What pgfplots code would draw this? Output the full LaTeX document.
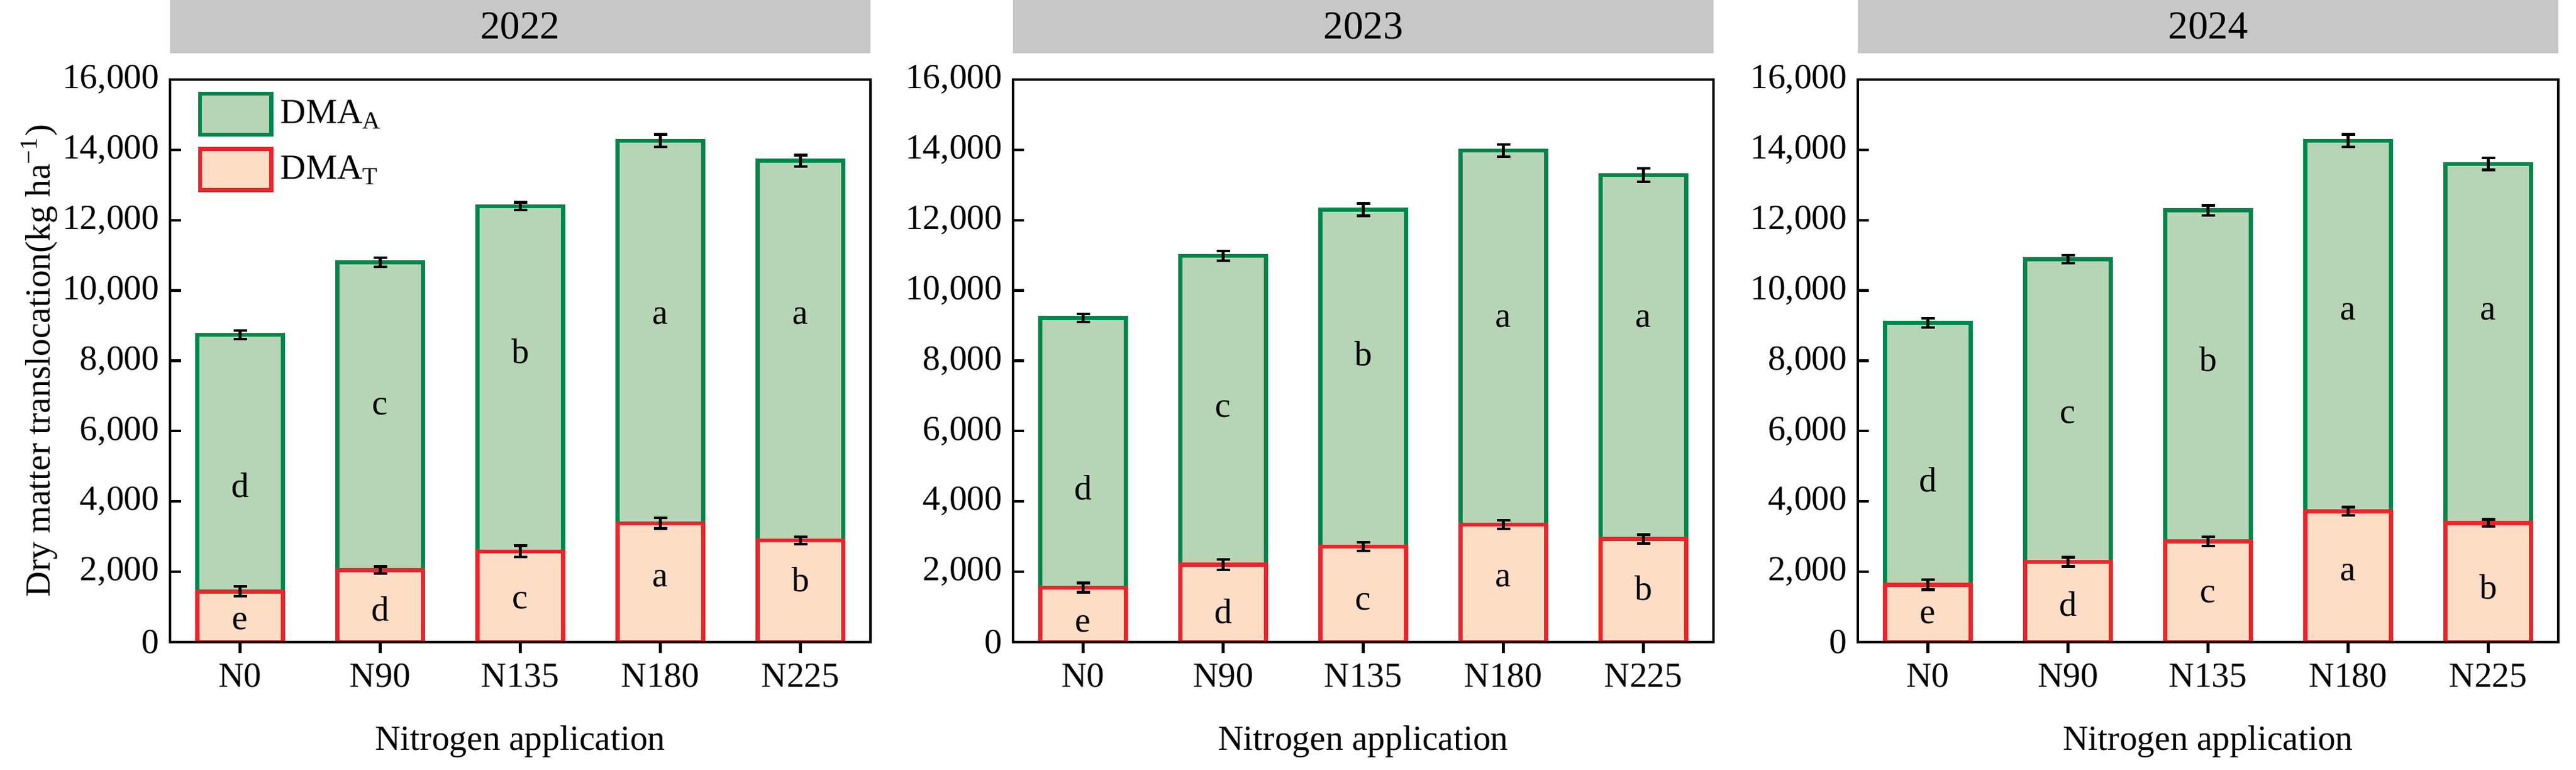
\documentclass[border=0pt]{standalone}
\usepackage{fontspec}
\setmainfont{Liberation Serif}
\usepackage{pgfplots}
\usepackage{pgfplotstable}
\pgfplotsset{compat=1.18}

\definecolor{stripgray}{RGB}{199,199,199}
\definecolor{afill}{RGB}{182,213,181}
\definecolor{agreen}{RGB}{0,134,74}
\definecolor{tfill}{RGB}{253,221,196}
\definecolor{tred}{RGB}{238,36,42}

\newcommand\fs{\fontsize{11.5}{13.8}\selectfont}

% x: category index; T = DMA_T; A = DMA_A; Tot = T + A
\pgfplotstableread{
x T A Tot eT eTot
0 1440 7300 8740 140 120
1 2050 8750 10800 100 130
2 2580 9820 12400 160 110
3 3380 10880 14260 150 180
4 2890 10800 13690 110 160
}\tabA
\pgfplotstableread{
x T A Tot eT eTot
0 1550 7670 9220 130 110
1 2200 8790 10990 150 140
2 2720 9580 12300 120 175
3 3340 10640 13980 120 180
4 2930 10350 13280 125 190
}\tabB
\pgfplotstableread{
x T A Tot eT eTot
0 1630 7450 9080 140 130
1 2280 8610 10890 130 110
2 2860 9420 12280 130 140
3 3720 10540 14260 120 180
4 3390 10210 13600 100 170
}\tabC

\pgfplotsset{
  boxlegend/.style={legend image code/.code={\draw[##1] (0pt,-6.7pt) rectangle (23.2pt,6.7pt);}},
  panel/.style={
    width=229pt, height=183.8pt, scale only axis,
    xmin=-0.5, xmax=4.5, ymin=0, ymax=16000,
    anchor=south west,
  },
  panelframe/.style={
    panel, axis on top,
    ybar stacked, bar width=0.61,
    xtick={0,...,4}, xticklabels={N0,N90,N135,N180,N225},
    ytick={0,2000,...,16000},
    scaled y ticks=false,
    /pgf/number format/assume math mode=true,
    /pgf/number format/1000 sep={,},
    xtick pos=left, ytick pos=left,
    xtick align=outside, ytick align=inside,
    major tick length=3.6pt,
    tick style={black, line width=0.85pt},
    axis line style={line width=0.85pt},
    tick label style={font=\fs},
    title style={at={(0.5,1)}, anchor=south, yshift=2.35pt, fill=stripgray,
      minimum width=229pt, minimum height=18.2pt, inner sep=0pt,
      font=\fontsize{13}{13}\selectfont},
    every axis x label/.style={at={(axis description cs:0.5,0)}, yshift=-35.2pt, anchor=base, font=\fs},
    every axis y label/.style={at={(axis description cs:0,0.5)}, xshift=-39.2pt, rotate=90, anchor=base, font=\fs},
    xlabel={Nitrogen application},
  },
  tbar/.style={fill=tfill, draw=tred, line width=1.3pt, boxlegend},
  abar/.style={fill=afill, draw=agreen, line width=1.3pt, boxlegend},
  ebar/.style={black, only marks, mark=text, text mark={}, forget plot,
    error bars/.cd, y dir=both, y explicit,
    error bar style={line width=0.85pt, black},
    error mark options={rotate=90, mark size=2.2pt, line width=0.85pt, black}},
}
\newcommand\lab[3]{\node[font=\fs, anchor=base] at (axis cs:#1,#2) {#3};}

\begin{document}
\begin{tikzpicture}
\path[use as bounding box] (0,0) rectangle (842.2pt,251.4pt);

% ---------- 2022 ----------
\begin{axis}[panelframe, at={(55.6pt,41.6pt)}, title={2022},
  ylabel={Dry matter translocation(kg ha\textsuperscript{−1})},
  reverse legend, legend cell align=left,
  legend style={at={(0,1)}, anchor=north west, xshift=9pt, yshift=-3.8pt,
    draw=none, fill=none, inner sep=0pt, row sep=3.4pt, font=\fs,
    nodes={inner xsep=2.4pt, inner ysep=0pt}}]
\addplot[tbar] table[x=x,y=T]{\tabA};
\addlegendentry{DMA\textsubscript{T}}
\addplot[abar] table[x=x,y=A]{\tabA};
\addlegendentry{DMA\textsubscript{A}}
\end{axis}
\begin{axis}[panel, at={(55.6pt,41.6pt)}, hide axis, clip=false]
\addplot[ebar] table[x=x,y=T,y error=eT]{\tabA};
\addplot[ebar] table[x=x,y=Tot,y error=eTot]{\tabA};
\lab{0}{4120}{d}\lab{1}{6470}{c}\lab{2}{7930}{b}\lab{3}{9050}{a}\lab{4}{9050}{a}
\lab{0}{350}{e}\lab{1}{600}{d}\lab{2}{950}{c}\lab{3}{1580}{a}\lab{4}{1440}{b}
\end{axis}

% ---------- 2023 ----------
\begin{axis}[panelframe, at={(331.2pt,41.6pt)}, title={2023}]
\addplot[tbar] table[x=x,y=T]{\tabB};
\addplot[abar] table[x=x,y=A]{\tabB};
\end{axis}
\begin{axis}[panel, at={(331.2pt,41.6pt)}, hide axis, clip=false]
\addplot[ebar] table[x=x,y=T,y error=eT]{\tabB};
\addplot[ebar] table[x=x,y=Tot,y error=eTot]{\tabB};
\lab{0}{4050}{d}\lab{1}{6400}{c}\lab{2}{7860}{b}\lab{3}{8950}{a}\lab{4}{8950}{a}
\lab{0}{280}{e}\lab{1}{530}{d}\lab{2}{910}{c}\lab{3}{1580}{a}\lab{4}{1200}{b}
\end{axis}

% ---------- 2024 ----------
\begin{axis}[panelframe, at={(607.4pt,41.6pt)}, title={2024}]
\addplot[tbar] table[x=x,y=T]{\tabC};
\addplot[abar] table[x=x,y=A]{\tabC};
\end{axis}
\begin{axis}[panel, at={(607.4pt,41.6pt)}, hide axis, clip=false]
\addplot[ebar] table[x=x,y=T,y error=eT]{\tabC};
\addplot[ebar] table[x=x,y=Tot,y error=eTot]{\tabC};
\lab{0}{4270}{d}\lab{1}{6230}{c}\lab{2}{7700}{b}\lab{3}{9160}{a}\lab{4}{9160}{a}
\lab{0}{530}{e}\lab{1}{740}{d}\lab{2}{1120}{c}\lab{3}{1750}{a}\lab{4}{1230}{b}
\end{axis}
\end{tikzpicture}
\end{document}
